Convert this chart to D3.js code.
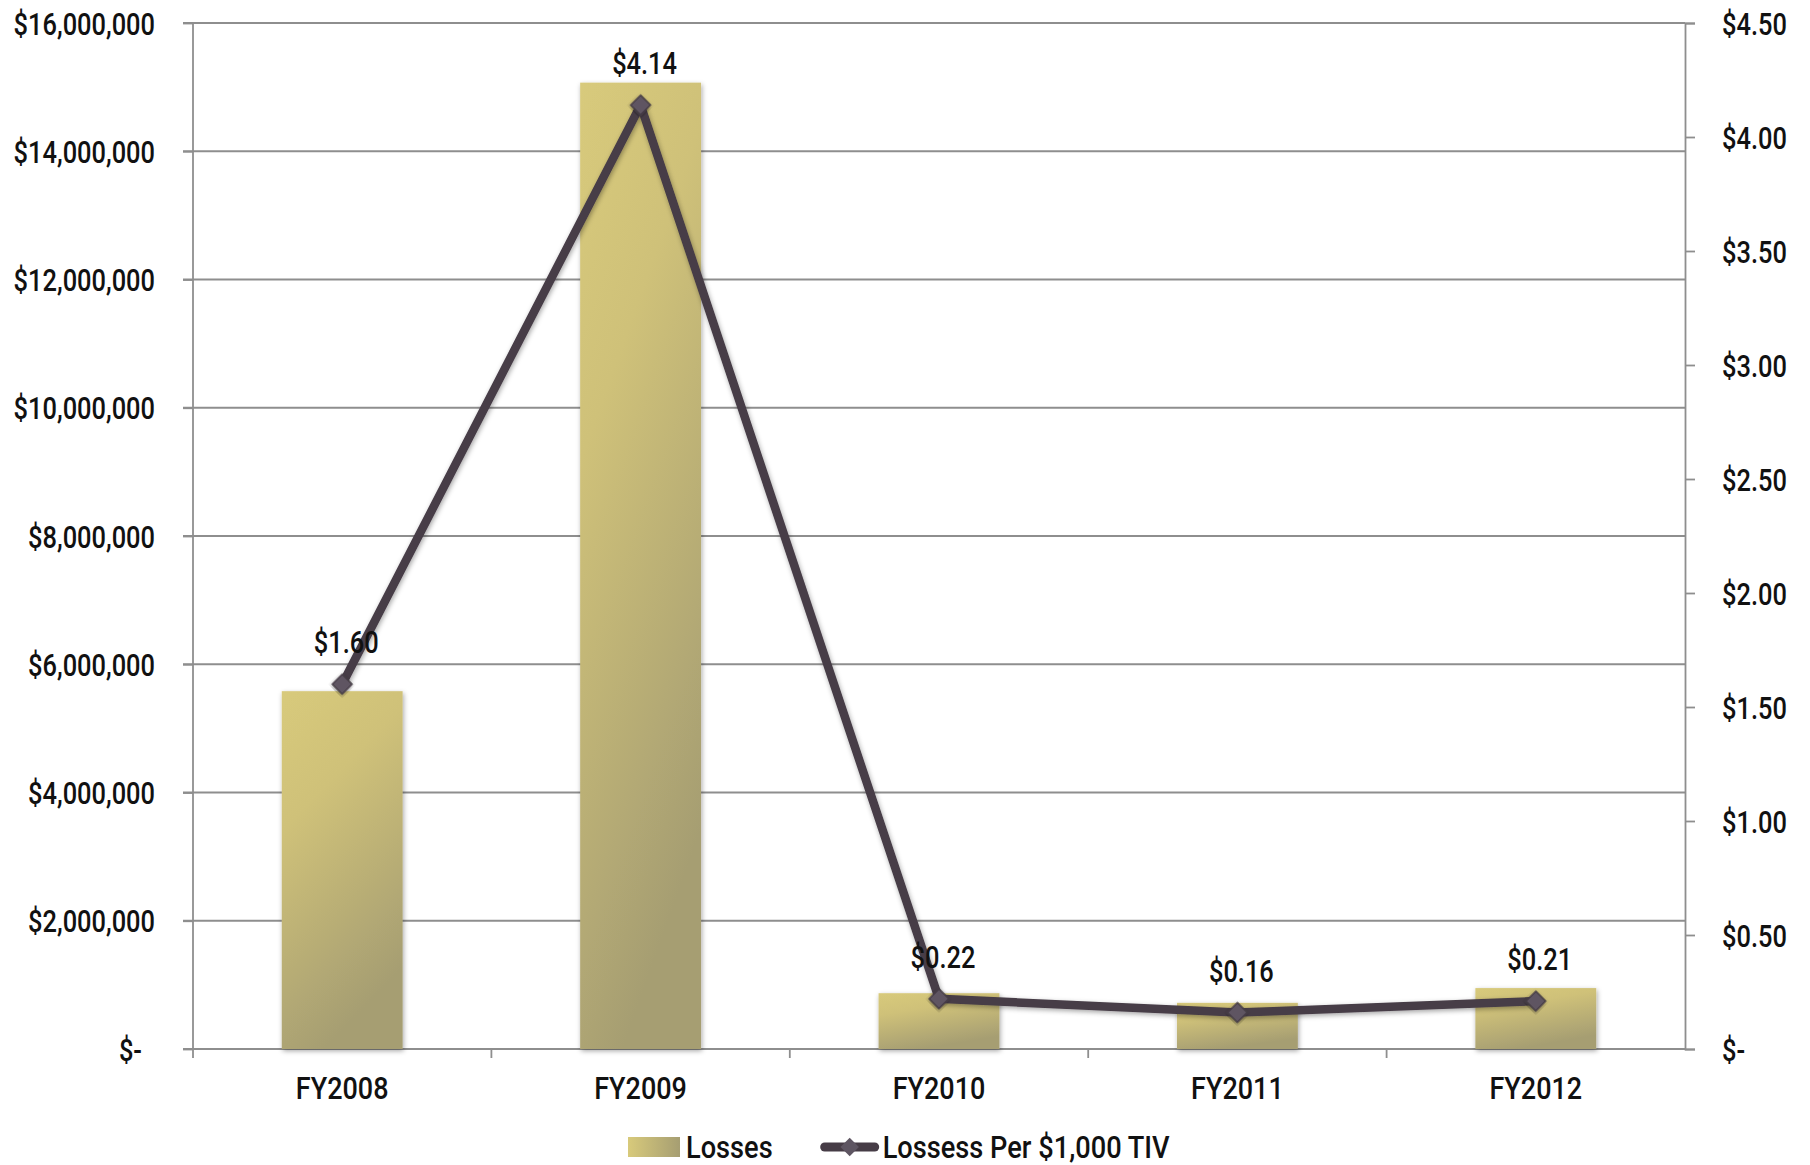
<!DOCTYPE html>
<html>
<head>
<meta charset="utf-8">
<script src="https://cdn.jsdelivr.net/npm/d3@7"></script>
<style>
  html, body { margin: 0; padding: 0; background: #fff; }
  svg text { font-family: Roboto, "Liberation Sans", sans-serif; font-weight: 500; fill: #111; }
</style>
</head>
<body>
<svg id="chart" width="1810" height="1165"></svg>
<script>
// Fiscal years shown on the category axis
const categories = ["FY2008", "FY2009", "FY2010", "FY2011", "FY2012"];
// Total losses per year (left axis, dollars)
const losses = [5580000, 15070000, 870000, 720000, 950000];
// Losses per $1,000 of total insured value (right axis)
const lossPerTiv = [1.60, 4.14, 0.22, 0.16, 0.21];
// Axis tick values
const leftTicks = [0, 2000000, 4000000, 6000000, 8000000, 10000000, 12000000, 14000000, 16000000];
const rightTicks = [0, 0.5, 1.0, 1.5, 2.0, 2.5, 3.0, 3.5, 4.0, 4.5];
const seriesNames = ["Losses", "Lossess Per $1,000 TIV"];

const svg = d3.select("#chart");
const m = { left: 193, right: 1685, top: 23, bottom: 1049 };
const FS = 31;          // label font size
const SQUEEZE = 0.82;   // horizontal condensing of labels

const x = d3.scaleBand().domain(categories).range([m.left, m.right]).paddingInner(0.595).paddingOuter(0.2975);
const xc = d3.scaleBand().domain(categories).range([m.left, m.right]);
const yL = d3.scaleLinear().domain([0, 16000000]).range([m.bottom, m.top]);
const yR = d3.scaleLinear().domain([0, 4.5]).range([m.bottom, m.top]);

const condense = (sel, k) => sel.each(function () {
  const w = this.getComputedTextLength();
  d3.select(this).attr("textLength", w * k).attr("lengthAdjust", "spacingAndGlyphs");
});

const defs = svg.append("defs");
const grad = defs.append("linearGradient").attr("id", "barGrad")
  .attr("x1", "0").attr("y1", "0").attr("x2", "0.35").attr("y2", "1");
grad.append("stop").attr("offset", "0").attr("stop-color", "#d8ca7b");
grad.append("stop").attr("offset", "0.35").attr("stop-color", "#cfc179");
grad.append("stop").attr("offset", "1").attr("stop-color", "#a69e72");
const gradH = defs.append("linearGradient").attr("id", "legGrad")
  .attr("x1", "0").attr("y1", "0").attr("x2", "1").attr("y2", "0");
gradH.append("stop").attr("offset", "0").attr("stop-color", "#d8ca7b");
gradH.append("stop").attr("offset", "1").attr("stop-color", "#a69e72");
const shadow = defs.append("filter").attr("id", "shadow").attr("x", "-20%").attr("y", "-20%").attr("width", "140%").attr("height", "140%");
shadow.append("feDropShadow").attr("dx", 1).attr("dy", 2).attr("stdDeviation", 2.5).attr("flood-color", "#000").attr("flood-opacity", 0.35);

// Horizontal gridlines
svg.append("g").selectAll("line").data(leftTicks.slice(1)).join("line")
  .attr("x1", m.left - 10).attr("x2", m.right)
  .attr("y1", d => yL(d)).attr("y2", d => yL(d))
  .attr("stroke", "#8e8e8e").attr("stroke-width", 1.8);

// Left axis
const gL = svg.append("g").attr("transform", `translate(${m.left},0)`)
  .call(d3.axisLeft(yL).tickValues(leftTicks).tickSize(10).tickPadding(28)
    .tickFormat(d => d === 0 ? "$-" : "$" + d3.format(",")(d)));
gL.select(".domain").attr("d", `M0,${m.top}V${m.bottom + 9}`);
gL.selectAll("line, path").attr("stroke", "#8e8e8e").attr("stroke-width", 1.8);
gL.selectAll("text").attr("font-size", FS).attr("dy", "0.36em")
  .attr("dx", d => d === 0 ? -13 : 0).call(condense, SQUEEZE);

// Right axis
const gR = svg.append("g").attr("transform", `translate(${m.right},0)`)
  .call(d3.axisRight(yR).tickValues(rightTicks).tickSize(10).tickPadding(27)
    .tickFormat(d => d === 0 ? "$-" : "$" + d3.format(".2f")(d)));
gR.selectAll("line, path").attr("stroke", "#8e8e8e").attr("stroke-width", 1.8);
gR.selectAll("text").attr("font-size", FS).attr("dy", "0.36em").call(condense, SQUEEZE);

// Category axis with ticks on band boundaries
const gX = svg.append("g").attr("transform", `translate(0,${m.bottom})`);
gX.append("line").attr("x1", m.left - 10).attr("x2", m.right).attr("y1", 0).attr("y2", 0)
  .attr("stroke", "#8e8e8e").attr("stroke-width", 1.8);
gX.selectAll("line.tk").data(categories.slice(1)).join("line").attr("class", "tk")
  .attr("x1", d => xc(d)).attr("x2", d => xc(d)).attr("y1", 0).attr("y2", 9)
  .attr("stroke", "#8e8e8e").attr("stroke-width", 1.8);
gX.selectAll("text").data(categories).join("text")
  .attr("x", d => xc(d) + xc.bandwidth() / 2).attr("y", 50)
  .attr("text-anchor", "middle").attr("font-size", FS).text(d => d)
  .call(condense, 0.87);

// Bars
svg.append("g").selectAll("rect").data(categories).join("rect")
  .attr("x", d => x(d)).attr("width", x.bandwidth())
  .attr("y", (d, i) => yL(losses[i])).attr("height", (d, i) => yL(0) - yL(losses[i]))
  .attr("fill", "url(#barGrad)").attr("filter", "url(#shadow)");

// Line series on right axis
const cx = d => xc(d) + xc.bandwidth() / 2;
const line = d3.line().x((d, i) => cx(categories[i])).y(d => yR(d));
svg.append("path").datum(lossPerTiv).attr("d", line)
  .attr("fill", "none").attr("stroke", "#463c46").attr("stroke-width", 8.5)
  .attr("stroke-linejoin", "round").attr("filter", "url(#shadow)");

const diamond = d3.symbol().type(d3.symbolSquare).size(190);
svg.append("g").selectAll("path").data(lossPerTiv).join("path")
  .attr("d", diamond)
  .attr("transform", (d, i) => `translate(${cx(categories[i])},${yR(d)}) rotate(45)`)
  .attr("fill", "#5e5562").attr("stroke", "#463c46").attr("stroke-width", 1.5)
  .attr("filter", "url(#shadow)");

// Value labels
svg.append("g").selectAll("text").data(lossPerTiv).join("text")
  .attr("x", (d, i) => cx(categories[i]) + 4).attr("y", d => yR(d) - 31)
  .attr("text-anchor", "middle").attr("font-size", FS)
  .text(d => "$" + d3.format(".2f")(d))
  .call(condense, SQUEEZE);

// Legend
const LFS = 32, LSQ = 0.85, LY = 1147;
const leg = svg.append("g");
leg.append("rect").attr("x", 628).attr("y", LY - 10).attr("width", 52).attr("height", 20).attr("fill", "url(#legGrad)");
const t1 = leg.append("text").attr("x", 686).attr("y", LY + 11).attr("font-size", LFS).text(seriesNames[0]).call(condense, LSQ);
const lx = 686 + (+t1.attr("textLength")) + 52;
leg.append("line").attr("x1", lx).attr("x2", lx + 50).attr("y1", LY).attr("y2", LY)
  .attr("stroke", "#463c46").attr("stroke-width", 9).attr("stroke-linecap", "round");
leg.append("path").attr("d", d3.symbol().type(d3.symbolSquare).size(170))
  .attr("transform", `translate(${lx + 25},${LY}) rotate(45)`).attr("fill", "#5e5562");
leg.append("text").attr("x", lx + 58).attr("y", LY + 11).attr("font-size", LFS).text(seriesNames[1]).call(condense, LSQ);
</script>
</body>
</html>
